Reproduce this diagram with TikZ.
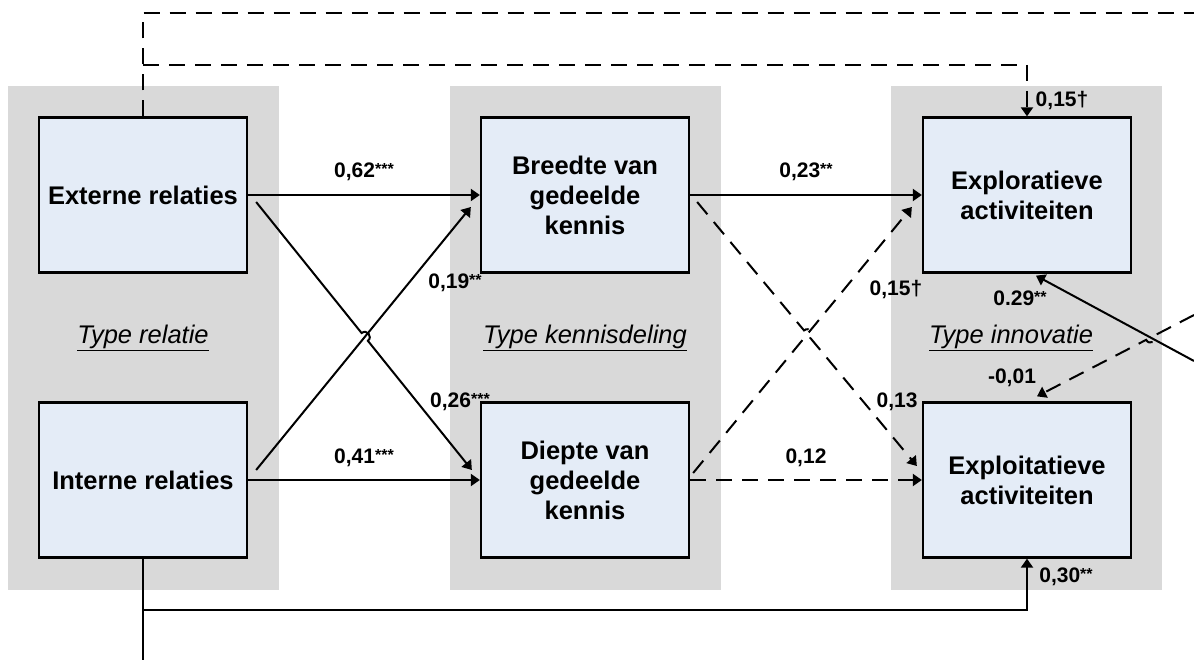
\documentclass[tikz,border=0pt]{standalone}
\usepackage{fontspec}
\setmainfont{Liberation Sans}
\usetikzlibrary{arrows.meta,calc}

\definecolor{vlakgrijs}{RGB}{217,217,217}
\definecolor{blokblauw}{RGB}{228,236,247}

% significantiesterren
\newcommand{\ster}[1]{\raisebox{3pt}{\fontsize{16}{16}\selectfont #1}}

\tikzset{
  blok/.style={draw, line width=2.3pt, fill=blokblauw, minimum width=208pt,
    minimum height=155pt, inner sep=0pt, align=center,
    font=\bfseries\fontsize{25.5}{30}\selectfont},
  lijn/.style={line width=2pt},
  pijl/.style={lijn, -{Triangle[length=9pt,width=12pt]}},
  stippel/.style={dash pattern=on 16pt off 10pt},
  coef/.style={inner sep=0pt, font=\bfseries\fontsize{21}{25}\selectfont},
  soort/.style={inner sep=0pt, anchor=base, font=\itshape\fontsize{25.5}{30}\selectfont},
}

\begin{document}
\begin{tikzpicture}[x=1pt,y=-1pt]
  \useasboundingbox (0,0) rectangle (1194,660);

  % grijze achtergrondvlakken
  \foreach \x in {8,450,891}
    \fill[vlakgrijs] (\x,86) rectangle +(271,504);

  % blokken
  \node[blok] (ext) at (143,195) {Externe relaties};
  \node[blok] (int) at (143,480) {Interne relaties};
  \node[blok] (breedte) at (585,195) {Breedte van\\gedeelde\\kennis};
  \node[blok] (diepte) at (585,480) {Diepte van\\gedeelde\\kennis};
  \node[blok] (explor) at (1027,195) {Exploratieve\\activiteiten};
  \node[blok] (exploit) at (1027,480) {Exploitatieve\\activiteiten};

  \node[soort] (trel) at (143,344) {\underline{Type relatie}};
  \node[soort] (tken) at (585,344) {\underline{Type kennisdeling}};
  \node[soort] (tinn) at (1011,344) {\underline{Type innovatie}};

  % relaties -> kennisdeling
  \draw[pijl] (ext) -- (breedte);
  \draw[pijl] (int) -- (diepte);
  \coordinate (a1) at ($(ext.east)+(8,7)$);
  \coordinate (a2) at ($(diepte.west)+(-8,-10)$);
  \coordinate (b1) at ($(int.east)+(8,-10)$);
  \coordinate (b2) at ($(breedte.west)+(-9,12)$);
  \coordinate (k1) at (intersection of a1--a2 and b1--b2);
  \coordinate (k1a) at ($(k1)!5pt!(a1)$);
  \coordinate (k1b) at ($(k1)!5pt!(a2)$);
  \draw[pijl] (b1) -- (b2);
  \draw[pijl] (a1) -- (k1a) .. controls ($(k1a)!0.667!90:(k1b)$) and ($(k1b)!0.667!-90:(k1a)$) .. (k1b) -- (a2);

  % kennisdeling -> innovatie
  \draw[pijl] (breedte) -- (explor);
  \draw[pijl,stippel] (diepte) -- (exploit);
  \coordinate (c1) at ($(breedte.east)+(7,7)$);
  \coordinate (c2) at ($(exploit.west)+(-5,-14)$);
  \coordinate (d1) at ($(diepte.east)+(3,-7)$);
  \coordinate (d2) at ($(explor.west)+(-10,12)$);
  \coordinate (k2) at (intersection of c1--c2 and d1--d2);
  \coordinate (k2a) at ($(k2)!5pt!(c1)$);
  \coordinate (k2b) at ($(k2)!5pt!(c2)$);
  \draw[pijl,stippel] (d1) -- (d2);
  \draw[pijl,stippel] (c1) -- (k2a) .. controls ($(k2a)!0.667!90:(k2b)$) and ($(k2b)!0.667!-90:(k2a)$) .. (k2b) -- (c2);

  % lijnen naar buiten
  \coordinate (boven) at (1194,13);
  \coordinate (tak1) at (143,65);
  \draw[lijn,stippel] (ext.north) |- (boven);
  \draw[pijl,stippel] (tak1) -| (explor.north);

  \coordinate (onder) at (143,660);
  \coordinate (tak2) at (143,610);
  \draw[lijn] (int.south) -- (onder);
  \draw[pijl] (tak2) -| (exploit.south);

  \coordinate (r1) at (1194,361);
  \coordinate (r2) at ($(explor.south)+(9,2)$);
  \coordinate (s1) at (1194,315);
  \coordinate (s2) at ($(exploit.north)+(10,-5)$);
  \coordinate (k3) at (intersection of r1--r2 and s1--s2);
  \coordinate (k3a) at ($(k3)!5pt!(s1)$);
  \coordinate (k3b) at ($(k3)!5pt!(s2)$);
  \draw[pijl] (r1) -- (r2);
  \draw[pijl,stippel] (s1) -- (k3a) .. controls ($(k3a)!0.667!90:(k3b)$) and ($(k3b)!0.667!-90:(k3a)$) .. (k3b) -- (s2);

  % coefficienten
  \node[coef] (w62) at (364,172) {0,62\ster{***}};
  \node[coef] (w41) at (364,458) {0,41\ster{***}};
  \node[coef] (w19) at (455,283) {0,19\ster{**}};
  \node[coef] (w26) at (460,402) {0,26\ster{***}};
  \node[coef] (w23) at (806,172) {0,23\ster{**}};
  \node[coef] (w12) at (806,458) {0,12};
  \node[coef] (w15m) at (896,290) {0,15†};
  \node[coef] (w13) at (897,402) {0,13};
  \node[coef] (w15b) at (1062,101) {0,15†};
  \node[coef] (w29) at (1020,298) {0.29\ster{**}};
  \node[coef] (w01) at (1012,378) {-0,01};
  \node[coef] (w30) at (1066,577) {0,30\ster{**}};
\end{tikzpicture}
\end{document}
